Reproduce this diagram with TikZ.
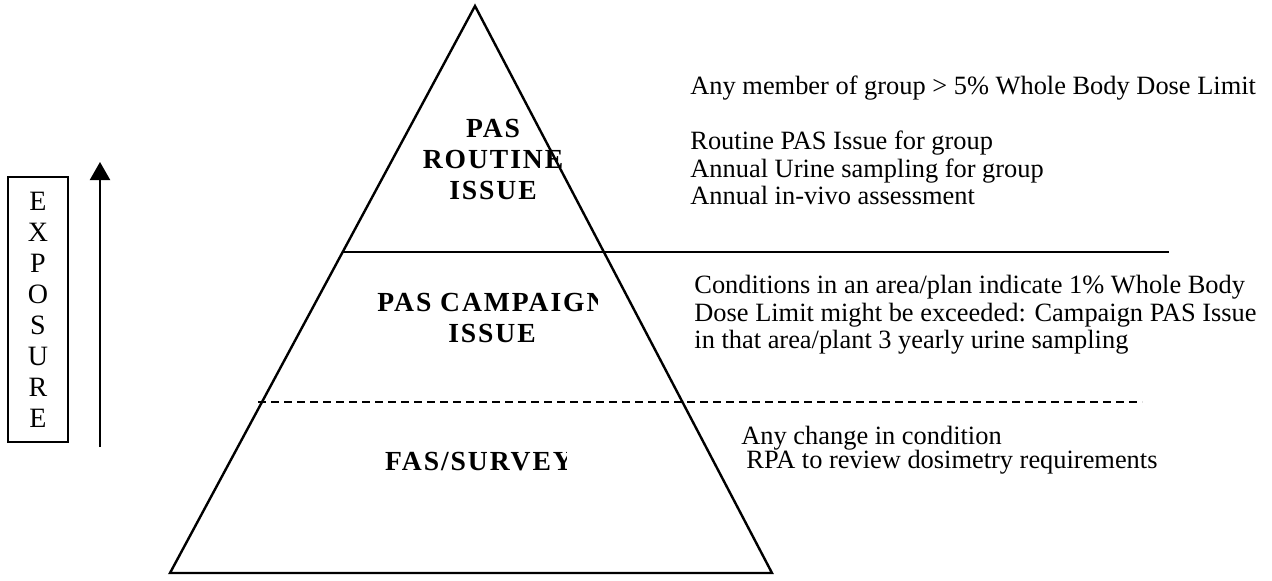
\documentclass[tikz,border=0pt]{standalone}
\usepackage{fontspec}
\setmainfont{Liberation Serif}
\usetikzlibrary{arrows.meta}
\begin{document}
\begin{tikzpicture}[x=0.5pt,y=-0.5pt,
  edge/.style={line width=1.2pt,line join=miter},
  desc/.style={anchor=west,inner sep=0pt,align=left,font=\fontsize{13.2}{13.8}\selectfont},
  tier/.style={inner sep=0pt,align=center,font=\fontsize{13.8}{15.5}\selectfont\bfseries\addfontfeature{LetterSpace=7}},
  vbox/.style={draw,line width=0.8pt,inner sep=0pt,minimum width=30pt,minimum height=132.5pt,align=center,font=\fontsize{14}{15.5}\selectfont},
  levelline/.style={line width=1.1pt},
  dashline/.style={line width=1.1pt,dash pattern=on 4pt off 2.5pt}]
\useasboundingbox (0,0) rectangle (1272,580);
% pyramid
\coordinate (apex) at (475,6);
\coordinate (bl) at (170,573);
\coordinate (br) at (772,573);
\draw[edge] (apex) -- (bl) -- (br) -- cycle;
% level lines
\coordinate (s1) at (343,252);
\coordinate (s2) at (1169,252);
\draw[levelline] (s1) -- (s2);
\coordinate (d1) at (258,402);
\coordinate (d2) at (1142,402);
\draw[dashline] (d1) -- (d2);
% tier labels (clipped as in the reference)
\begin{scope}
\clip (380,100) rectangle (561,220);
\node[tier] (top) at (493,159) {PAS\\ROUTINE\\ISSUE};
\end{scope}
\begin{scope}
\clip (360,280) rectangle (597,350);
\node[tier] (mid) at (492,317.5) {PAS CAMPAIGN\\ISSUE};
\end{scope}
\begin{scope}
\clip (360,440) rectangle (566,485);
\node[tier] (bot) at (479,462) {FAS/SURVEY};
\end{scope}
% descriptions
\node[desc] (t1) at (690,88) {Any member of group > 5\% Whole Body Dose Limit};
\node[desc] (t2) at (690,168) {Routine PAS Issue for group\\Annual Urine sampling for group\\Annual in-vivo assessment};
\node[desc] (m1) at (694,315) {Conditions in an area/plan indicate 1\% Whole Body\\Dose Limit might be exceeded: Campaign PAS Issue\\in that area/plant 3 yearly urine sampling};
\node[desc] (b1) at (741,438) {Any change in condition};
\node[desc] (b2) at (746,462) {RPA to review dosimetry requirements};
% exposure box and arrow
\node[vbox] (exp) at (38,309.5) {E\\X\\P\\O\\S\\U\\R\\E};
\coordinate (a0) at (100,447);
\coordinate (a1) at (100,162);
\draw[line width=1pt,-{Triangle[length=9pt,width=10pt]}] (a0) -- (a1);
\end{tikzpicture}
\end{document}
